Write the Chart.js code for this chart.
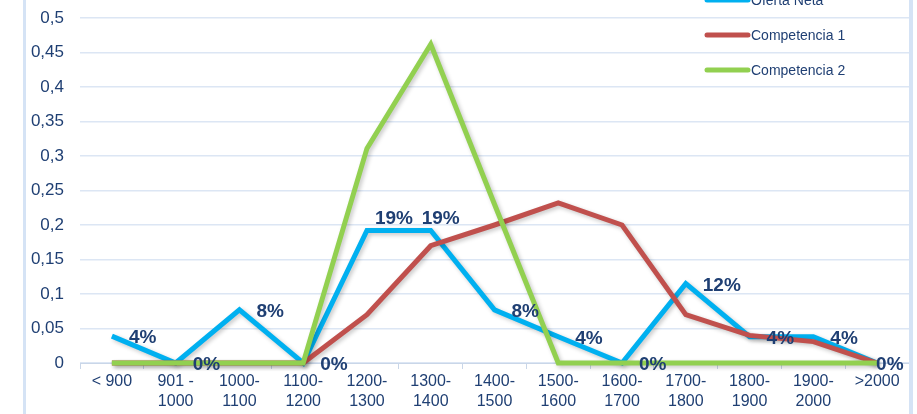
<!DOCTYPE html>
<html>
<head>
<meta charset="utf-8">
<script src="https://cdn.jsdelivr.net/npm/chart.js@4"></script>
<style>
  html, body { margin: 0; padding: 0; background: #fff; }
  #wrap { width: 917px; height: 414px; position: relative; }
</style>
</head>
<body>
<div id="wrap"><canvas id="rangeChart"></canvas></div>
<script>
// Salary ranges and shares per offer
const categories = [['< 900'], ['901 -', '1000'], ['1000-', '1100'], ['1100-', '1200'], ['1200-', '1300'],
  ['1300-', '1400'], ['1400-', '1500'], ['1500-', '1600'], ['1600-', '1700'], ['1700-', '1800'],
  ['1800-', '1900'], ['1900-', '2000'], ['>2000']];
const ofertaNeta = [0.039, 0, 0.077, 0, 0.192, 0.192, 0.077, 0.038, 0, 0.115, 0.038, 0.038, 0];
const competencia1 = [0, 0, 0, 0, 0.07, 0.17, 0.2, 0.232, 0.2, 0.07, 0.04, 0.031, 0];
const competencia2 = [0, 0, 0, 0, 0.311, 0.462, 0.23, 0, 0, 0, 0, 0, 0];
const seriesNames = ['Oferta Neta', 'Competencia 1', 'Competencia 2'];
const yTicks = [0, 0.05, 0.1, 0.15, 0.2, 0.25, 0.3, 0.35, 0.4, 0.45, 0.5];

const navy = '#1F3F73';
const font = '"Liberation Sans", Arial, sans-serif';

// labels next to the Oferta Neta points
const pctLabels = {
  id: 'pctLabels',
  afterDatasetsDraw(chart) {
    const ctx = chart.ctx;
    const meta = chart.getDatasetMeta(0);
    ctx.save();
    ctx.font = 'bold 19px ' + font;
    ctx.fillStyle = navy;
    ctx.textBaseline = 'middle';
    ctx.textAlign = 'left';
    meta.data.forEach((pt, i) => {
      const txt = Math.round(ofertaNeta[i] * 100) + '%';
      let dx = 17, dy = 2;
      if (i === 4) { dx = 8; dy = -12; }
      if (i === 5) { dx = -9; dy = -12; }
      if (i === meta.data.length - 1) { dx = -1; }
      ctx.fillText(txt, pt.x + dx, pt.y + dy);
    });
    ctx.restore();
  }
};

// legend drawn over the plot, top right, and chart frame lines
const frameLegend = {
  id: 'frameLegend',
  afterDraw(chart) {
    const ctx = chart.ctx;
    ctx.save();
    ctx.fillStyle = '#D5E3F5';
    ctx.fillRect(23, 0, 3, 414);
    ctx.fillRect(909, 0, 4, 414);
    ctx.font = '14px ' + font;
    ctx.textBaseline = 'middle';
    ctx.textAlign = 'left';
    chart.data.datasets.forEach((ds, i) => {
      const y = i * 35;
      ctx.strokeStyle = ds.borderColor;
      ctx.lineWidth = 5;
      ctx.lineCap = 'round';
      ctx.beginPath();
      ctx.moveTo(707, y);
      ctx.lineTo(748, y);
      ctx.stroke();
      ctx.fillStyle = navy;
      ctx.fillText(ds.label, 751, y + 1);
    });
    ctx.restore();
  }
};

// soft shadow under the lines
const lineShadow = {
  id: 'lineShadow',
  beforeDatasetsDraw(chart) {
    chart.ctx.save();
    chart.ctx.shadowColor = 'rgba(0,0,0,0.22)';
    chart.ctx.shadowBlur = 4;
    chart.ctx.shadowOffsetX = 2;
    chart.ctx.shadowOffsetY = 2;
  },
  afterDatasetsDraw(chart) {
    chart.ctx.restore();
  }
};

function lineSet(label, data, color, order) {
  return {
    label: label,
    data: data,
    borderColor: color,
    backgroundColor: color,
    borderWidth: 5,
    pointRadius: 0,
    tension: 0,
    borderJoinStyle: 'miter',
    clip: false,
    order: order
  };
}

new Chart(document.getElementById('rangeChart'), {
  type: 'line',
  data: {
    labels: categories,
    datasets: [
      lineSet(seriesNames[0], ofertaNeta, '#00B0F0', 2),
      lineSet(seriesNames[1], competencia1, '#C0504D', 1),
      lineSet(seriesNames[2], competencia2, '#92D050', 0)
    ]
  },
  options: {
    responsive: true,
    maintainAspectRatio: false,
    animation: false,
    layout: { padding: { left: 24, right: 8, top: 18, bottom: 0 } },
    plugins: {
      legend: { display: false },
      tooltip: { enabled: false }
    },
    scales: {
      x: {
        offset: true,
        grid: {
          display: true,
          drawOnChartArea: false,
          offset: true,
          tickLength: 6,
          color: '#C9D6E8'
        },
        border: { color: '#C9D6E8', width: 1 },
        ticks: {
          color: navy,
          font: { family: font, size: 16, lineHeight: 1.25 },
          maxRotation: 0,
          autoSkip: false,
          padding: 3
        },
        afterFit(scale) { scale.height = 51; }
      },
      y: {
        min: 0,
        max: 0.5,
        afterBuildTicks(scale) { scale.ticks = yTicks.map(v => ({ value: v })); },
        grid: { color: '#DCE6F4', lineWidth: 1.5, drawTicks: true, tickLength: 16, tickColor: 'rgba(0,0,0,0)' },
        border: { display: false },
        ticks: {
          color: navy,
          font: { family: font, size: 17 },
          padding: 0,
          callback: v => String(Math.round(v * 100) / 100).replace('.', ',')
        },
        afterFit(scale) { scale.width = 56; }
      }
    }
  },
  plugins: [lineShadow, pctLabels, frameLegend]
});
</script>
</body>
</html>
